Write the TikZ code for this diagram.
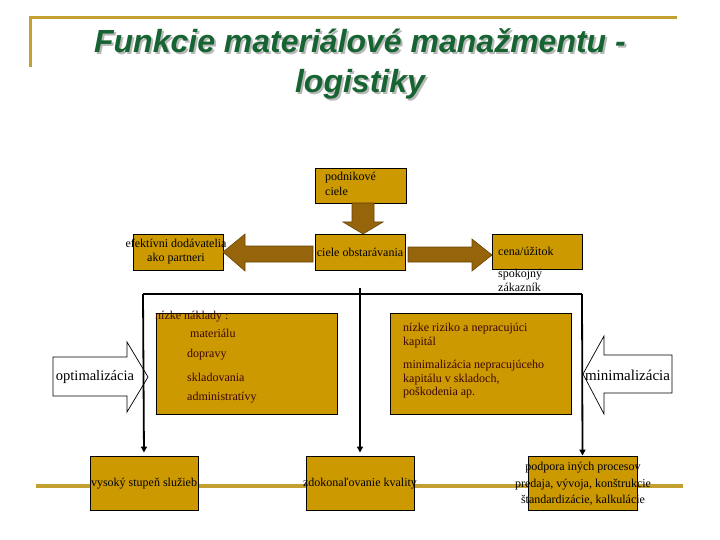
\documentclass[tikz,border=0pt]{standalone}
\usepackage{fontspec}
\setmainfont{Liberation Serif}
\newfontfamily\titlefont{Liberation Sans}
\usetikzlibrary{arrows.meta}
\definecolor{boxgold}{RGB}{204,153,0}
\definecolor{linegold}{RGB}{196,160,48}
\definecolor{arrbrown}{RGB}{150,100,10}
\definecolor{arredge}{RGB}{105,70,5}
\definecolor{titlegreen}{RGB}{22,100,50}
\definecolor{darktext}{RGB}{60,5,5}
\newcommand{\shadowtext}[1]{\rlap{\hspace{2pt}\raisebox{-2pt}{\textcolor{black!28}{#1}}}\textcolor{titlegreen}{#1}}
\tikzset{
  gbox/.style={draw=black, fill=boxgold, line width=0.9pt, inner sep=0pt},
  btext/.style={font=\fontsize{12}{14}\selectfont, inner sep=0pt, text=black},
  mtext/.style={font=\fontsize{12}{14}\selectfont, inner sep=0pt, text=darktext},
  blockarrow/.style={fill=arrbrown, draw=arredge, line width=0.6pt},
  whitearrow/.style={fill=white, draw=black, line width=0.7pt},
  conn/.style={draw=black, line width=1.8pt},
  connarr/.style={conn, -{Triangle[length=6pt,width=6pt]}},
  goldline/.style={draw=linegold, line width=3.5pt},
  ttl/.style={font=\titlefont\bfseries\itshape\fontsize{32}{40}\selectfont, inner sep=0pt, align=center}
}
\begin{document}
\begin{tikzpicture}[x=1pt,y=-1pt]
\useasboundingbox (0,0) rectangle (720,540);
\fill[white] (0,0) rectangle (720,540);

% title frame
\draw[draw=linegold, line width=3pt] (30,67) -- (30,18) -- (677,18);
% title with shadow
\node[ttl] (title) at (360,65) {\shadowtext{Funkcie materiálové manažmentu -}\\\shadowtext{logistiky}};

% bottom gold line
\draw[goldline] (36,486) -- (683,486);

% top boxes
\node[gbox, minimum width=91pt, minimum height=35pt] (podnik) at (360.5,185.5) {};
\node[gbox, minimum width=90pt, minimum height=36pt] (obst) at (360,252) {};
\node[gbox, minimum width=90pt, minimum height=36pt] (efekt) at (178,252) {};
\node[gbox, minimum width=90pt, minimum height=35pt] (cena) at (537,251.5) {};

% brown block arrows
\draw[blockarrow] (352,203) -- (374,203) -- (374,222) -- (383,222) -- (363,234) -- (343,222) -- (352,222) -- cycle;
\draw[blockarrow] (313,246) -- (245,246) -- (245,234) -- (223,252) -- (245,271) -- (245,262) -- (313,262) -- cycle;
\draw[blockarrow] (408,247) -- (472,247) -- (472,239) -- (492,255) -- (472,271) -- (472,262) -- (408,262) -- cycle;

% top texts
\node[btext, anchor=west, align=left, font=\fontsize{12}{15}\selectfont] (podnikt) at (325,183.5) {podnikové\\ciele};
\node[btext, align=center] (obstt) at (360,252) {ciele obstarávania};
\node[btext, align=center] (efektt) at (176,252) {efektívni dodávatelia\\ako partneri};
\node[btext, anchor=west] (cenat) at (498,251) {cena/úžitok};
\node[btext, anchor=west, align=left] (spok) at (498,280) {spokojný\\zákazník};

% connector lines
\coordinate (ctop) at (360,288);
\coordinate (hl) at (143,294);
\coordinate (hr) at (582,294);
\draw[conn] (hl) -- (hr);

% middle boxes
\node[gbox, minimum width=181pt, minimum height=101pt] (naklady) at (246.5,363.5) {};
\node[gbox, minimum width=181pt, minimum height=101pt] (riziko) at (480.5,363.5) {};

\node[mtext, anchor=west] (nakt) at (155,317) {nízke náklady :};
\node[mtext, anchor=west] (mat) at (190,333) {materiálu};
\node[mtext, anchor=west] (dop) at (187,355) {dopravy};
\node[mtext, anchor=west] (skl) at (187,377) {skladovania};
\node[mtext, anchor=west] (adm) at (187,398) {administratívy};

\node[mtext, anchor=west, align=left] (riz1) at (403,336) {nízke riziko a nepracujúci\\kapitál};
\node[mtext, anchor=west, align=left, font=\fontsize{12}{13.5}\selectfont] (riz2) at (403,379.5) {minimalizácia nepracujúceho\\kapitálu v skladoch,\\poškodenia ap.};

% white arrows
\draw[whitearrow] (53,357) -- (127,357) -- (127,342) -- (148,377) -- (127,412) -- (127,396) -- (53,396) -- cycle;
\node[btext, font=\fontsize{14.5}{16}\selectfont] (optim) at (95,377) {optimalizácia};
\draw[whitearrow] (672,355) -- (604,355) -- (604,336) -- (583,374) -- (604,414) -- (604,393) -- (672,393) -- cycle;
\node[btext, font=\fontsize{15}{17}\selectfont] (minim) at (627.5,375) {minimalizácia};

% bottom boxes
\node[gbox, minimum width=108pt, minimum height=54pt] (vysoky) at (144,483) {};
\node[gbox, minimum width=108pt, minimum height=54pt] (zdokon) at (360,483) {};
\node[gbox, minimum width=109pt, minimum height=54pt] (podpora) at (582.5,483) {};

\node[btext] (vysokyt) at (144,484) {vysoký stupeň služieb};
\node[btext] (zdokont) at (360,484) {zdokonaľovanie kvality};
\node[btext, align=center, font=\fontsize{12}{16.5}\selectfont] (podporat) at (583,484) {podpora iných procesov\\predaja, vývoja, konštrukcie\\štandardizácie, kalkulácie};

% vertical connectors
\draw[connarr, shorten >=3pt] (hl) -- (vysoky.north);
\draw[connarr, shorten >=3pt] (ctop) -- (zdokon.north);
\draw[connarr] (hr) -- (podpora.north);
\end{tikzpicture}
\end{document}
